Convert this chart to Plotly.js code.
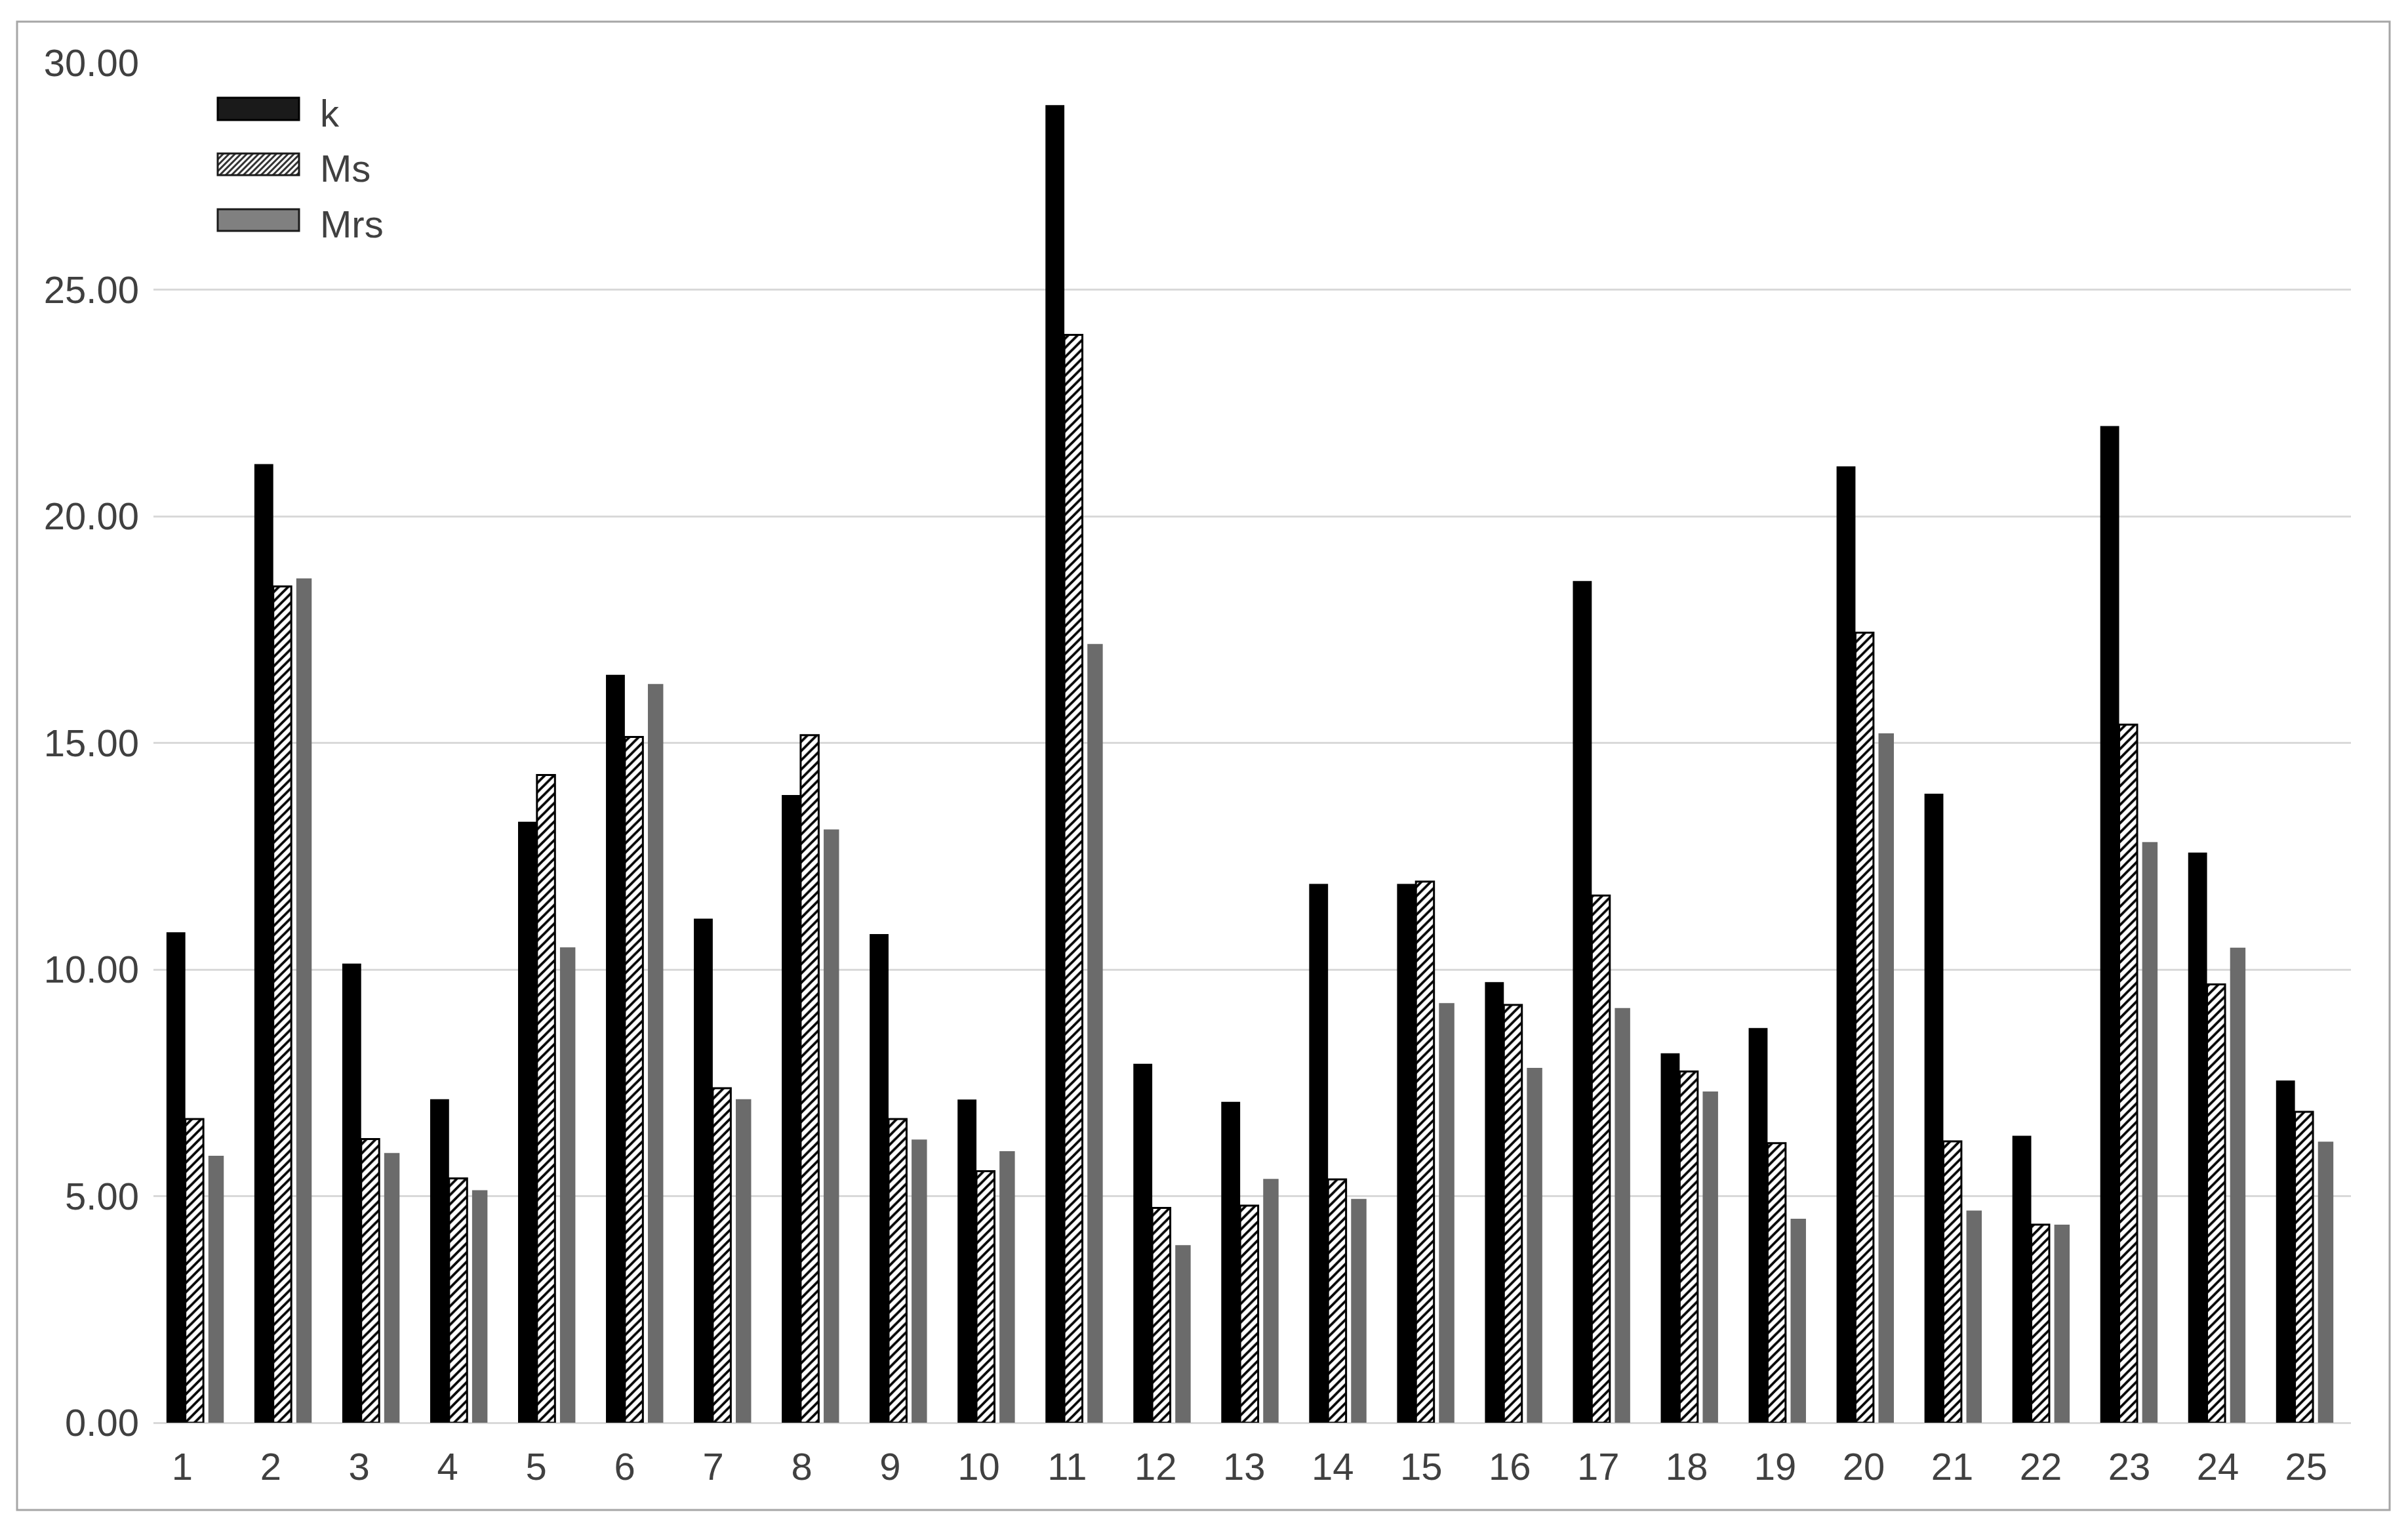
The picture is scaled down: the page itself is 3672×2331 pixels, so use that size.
<!DOCTYPE html>
<html>
<head>
<meta charset="utf-8">
<script src="https://cdn.plot.ly/plotly-3.0.1.min.js"></script>
<style>
html,body{margin:0;padding:0;background:#fff;}
#chart{width:3672px;height:2331px;}
</style>
</head>
<body>
<div id="chart"></div>
<script>
// ---- data ----
const categories = ['1','2','3','4','5','6','7','8','9','10','11','12','13','14','15','16','17','18','19','20','21','22','23','24','25'];
const seriesNames = ['k', 'Ms', 'Mrs'];
const kValues   = [10.82, 21.15, 10.13, 7.14, 13.26, 16.50, 11.12, 13.85, 10.78, 7.13, 29.07, 7.92, 7.08, 11.89, 11.89, 9.72, 18.57, 8.15, 8.71, 21.10, 13.88, 6.33, 21.99, 12.58, 7.55];
const msValues  = [6.70, 18.45, 6.26, 5.39, 14.29, 15.13, 7.38, 15.17, 6.70, 5.55, 24.00, 4.74, 4.79, 5.37, 11.94, 9.22, 11.63, 7.75, 6.17, 17.43, 6.21, 4.37, 15.40, 9.67, 6.86];
const mrsValues = [5.89, 18.63, 5.95, 5.13, 10.49, 16.30, 7.14, 13.09, 6.25, 5.99, 17.18, 3.92, 5.38, 4.94, 9.26, 7.83, 9.15, 7.31, 4.50, 15.21, 4.68, 4.37, 12.81, 10.48, 6.20];
const yTickValues = [0, 5, 10, 15, 20, 25, 30];

// ---- layout constants ----
const W = 3672, H = 2331;
const ML = 234, MR = 87, MT = 96, MB = 162;
const PW = W - ML - MR, PH = H - MT - MB;
const FONT = '"Liberation Sans", Arial, sans-serif';
const TXT = '#404040';
const FS = 58;

function px2x(px){ return (px - ML) / PW; }
function py2y(py){ return (H - MB - py) / PH; }

const traces = [
  {type:'bar', name:seriesNames[0], x:categories, y:kValues,
   offset:-0.352, width:0.215,
   marker:{color:'#000000', line:{width:0}}, showlegend:false},
  {type:'bar', name:seriesNames[1], x:categories, y:msValues,
   offset:-0.137, width:0.205,
   marker:{color:'#ffffff', line:{color:'#000000', width:3},
     pattern:{shape:'/', fgcolor:'#000000', bgcolor:'#ffffff', size:10, solidity:0.38, fillmode:'replace'}},
   showlegend:false},
  {type:'bar', name:seriesNames[2], x:categories, y:mrsValues,
   offset:0.125, width:0.175,
   marker:{color:'#6b6b6b', line:{width:0}}, showlegend:false}
];

// ---- custom legend (swatches + text) ----
const shapes = [];
const annotations = [];
const swX0 = 332, swX1 = 456;
const swatches = [
  {y0:149, y1:183, fill:'#1a1a1a', line:'#000000', label:seriesNames[0]},
  {y0:234, y1:267, fill:'#ffffff', line:'#1a1a1a', label:seriesNames[1], hatch:true},
  {y0:319, y1:352, fill:'#808080', line:'#1a1a1a', label:seriesNames[2]}
];
swatches.forEach(s => {
  if (s.hatch) {
    const h = s.y1 - s.y0;
    let d = '';
    for (let c = swX0 - h; c < swX1; c += 9) {
      const t0 = Math.max(0, (swX0 - c) / h);
      const t1 = Math.min(1, (swX1 - c) / h);
      if (t1 <= t0) continue;
      const xa = c + t0*h, ya = s.y1 - t0*h;
      const xb = c + t1*h, yb = s.y1 - t1*h;
      d += 'M' + px2x(xa).toFixed(5) + ',' + py2y(ya).toFixed(5) + 'L' + px2x(xb).toFixed(5) + ',' + py2y(yb).toFixed(5);
    }
    shapes.push({type:'rect', xref:'paper', yref:'paper', x0:px2x(swX0), x1:px2x(swX1), y0:py2y(s.y1), y1:py2y(s.y0),
      fillcolor:'#ffffff', line:{width:0}, layer:'above'});
    shapes.push({type:'path', xref:'paper', yref:'paper', path:d, line:{color:'#333333', width:3}, layer:'above'});
    shapes.push({type:'rect', xref:'paper', yref:'paper', x0:px2x(swX0), x1:px2x(swX1), y0:py2y(s.y1), y1:py2y(s.y0),
      fillcolor:'rgba(0,0,0,0)', line:{color:s.line, width:3}, layer:'above'});
  } else {
    shapes.push({type:'rect', xref:'paper', yref:'paper', x0:px2x(swX0), x1:px2x(swX1), y0:py2y(s.y1), y1:py2y(s.y0),
      fillcolor:s.fill, line:{color:s.line, width:3}, layer:'above'});
  }
  annotations.push({xref:'paper', yref:'paper', x:px2x(486), y:py2y((s.y0+s.y1)/2 + 6),
    xanchor:'left', yanchor:'middle', showarrow:false, text:s.label,
    font:{family:FONT, size:FS, color:TXT}});
});

// outer frame
shapes.push({type:'rect', xref:'paper', yref:'paper', x0:px2x(26), x1:px2x(3644), y0:py2y(2302), y1:py2y(33),
  fillcolor:'rgba(0,0,0,0)', line:{color:'#a6a6a6', width:3}, layer:'below'});

// numeric positions for the category labels axis (labels drift slightly vs. groups in the original)
const labelPositions = categories.map(c => Number(c));

const layout = {
  width:W, height:H,
  margin:{l:ML, r:MR, t:MT, b:MB, pad:0},
  paper_bgcolor:'#ffffff', plot_bgcolor:'#ffffff',
  barmode:'overlay',
  showlegend:false,
  font:{family:FONT, size:FS, color:TXT},
  xaxis:{type:'category', showgrid:false, zeroline:false, showline:false, ticks:'',
    showticklabels:false, fixedrange:true},
  xaxis2:{type:'linear', overlaying:'x', anchor:'y', side:'bottom', range:[0.6755, 25.505],
    tickvals:labelPositions, ticktext:categories, showgrid:false, zeroline:false, showline:false, ticks:'',
    tickfont:{family:FONT, size:FS, color:TXT}, ticklabelstandoff:28, fixedrange:true},
  yaxis:{range:[0,30], tickvals:yTickValues, tickformat:'.2f', showgrid:true, gridcolor:'#d9d9d9', gridwidth:3,
    zeroline:true, zerolinecolor:'#d9d9d9', zerolinewidth:3, showline:false, ticks:'',
    tickfont:{family:FONT, size:FS, color:TXT}, ticklabelstandoff:21, fixedrange:true},
  shapes:shapes,
  annotations:annotations
};

// invisible helper trace so the label axis is drawn
traces.push({type:'scatter', x:[labelPositions[0]], y:[0], xaxis:'x2', yaxis:'y', mode:'markers',
  marker:{opacity:0}, showlegend:false, hoverinfo:'skip'});

Plotly.newPlot('chart', traces, layout, {staticPlot:true, displayModeBar:false});
</script>
</body>
</html>
